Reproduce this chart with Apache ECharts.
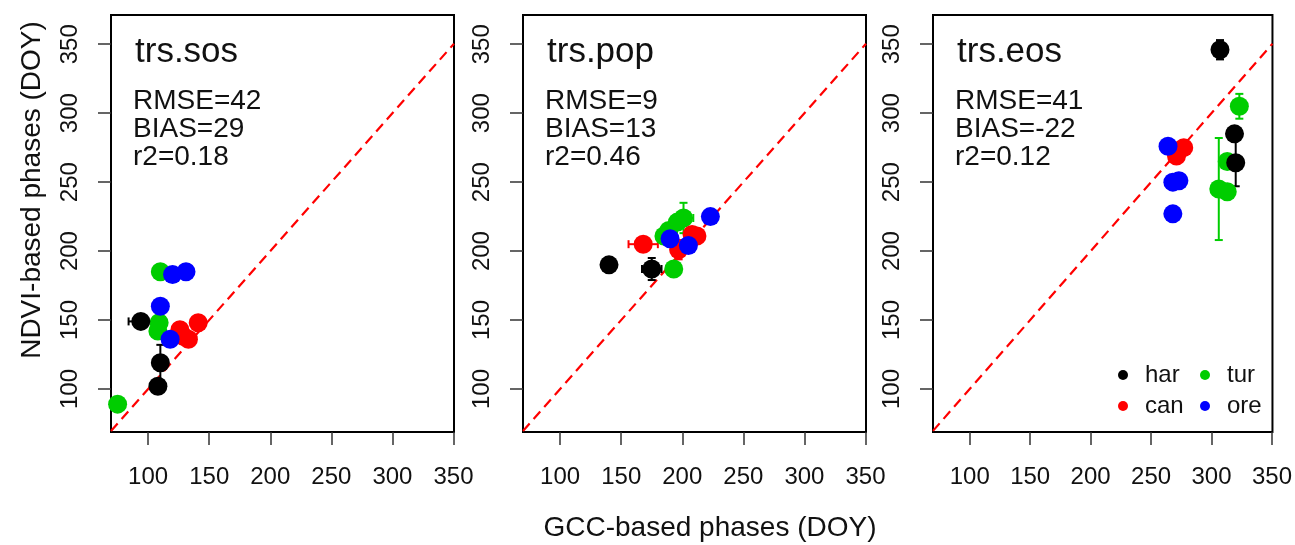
<!DOCTYPE html>
<html>
<head>
<meta charset="utf-8">
<script src="https://cdn.jsdelivr.net/npm/echarts@6/dist/echarts.min.js"></script>
<style>
html,body{margin:0;padding:0;background:#fff;}
#chart{width:1295px;height:545px;}
</style>
</head>
<body>
<div id="chart"></div>
<script>
// ---- data: [GCC DOY, NDVI DOY, x-error, y-error] ----
const panelNames = ['trs.sos', 'trs.pop', 'trs.eos'];
const panelStats = [
  ['RMSE=42', 'BIAS=29', 'r2=0.18'],
  ['RMSE=9', 'BIAS=13', 'r2=0.46'],
  ['RMSE=41', 'BIAS=-22', 'r2=0.12']
];
const tickValues = [100, 150, 200, 250, 300, 350];
const siteNames = ['har', 'can', 'tur', 'ore'];

const sosHar = [[94,149,10,0],[110,119,0,13],[108,102,0,0]];
const sosCan = [[126,143,0,0],[141,148,0,0],[133,136,0,0],[129,138,0,0]];
const sosTur = [[110,185,0,0],[109,148,0,0],[108,142,0,0],[75,89,0,0]];
const sosOre = [[120,183,0,0],[131,185,0,0],[110,160,0,0],[118,136,0,0]];

const popHar = [[140,190,5,0],[175,187,8,8]];
const popCan = [[168,205,12,0],[197,201,0,7],[208,212,0,0],[212,211,0,0]];
const popTur = [[193,187,0,0],[185,211,0,0],[189,215,0,0],[196,221,0,0],[201,224,8,11]];
const popOre = [[190,209,0,0],[205,204,0,0],[223,225,5,0]];

const eosHar = [[307,346,0,7],[319,285,0,0],[320,264,0,17]];
const eosCan = [[273,273,0,0],[271,269,0,0],[277,275,0,0]];
const eosTur = [[323,305,0,9],[313,265,0,0],[306,245,0,37],[313,243,0,0]];
const eosOre = [[264,276,0,0],[268,250,0,0],[273,251,0,0],[268,227,0,0]];

const xRange = [69.6, 350.4];
const yRange = [68.8, 371.2];
const oneToOne = [[69.6, 69.6], [350.4, 350.4]];

// ---- styling ----
const FONT = '"Liberation Sans", Arial, Helvetica, sans-serif';
const siteColors = {har: '#000000', can: '#ff0000', tur: '#00cd00', ore: '#0000ff'};
const panelData = [
  {har: sosHar, can: sosCan, tur: sosTur, ore: sosOre},
  {har: popHar, can: popCan, tur: popTur, ore: popOre},
  {har: eosHar, can: eosCan, tur: eosTur, ore: eosOre}
];
const gridLefts = [111, 523, 933];
const gridW = 343, gridTop = 15, gridH = 417;

function errRenderer(color) {
  return function (params, api) {
    const x = api.value(0), y = api.value(1), xe = api.value(2), ye = api.value(3);
    const st = {stroke: color, lineWidth: 2};
    const cap = 4;
    const ch = [];
    if (xe > 0) {
      const a = api.coord([x - xe, y]), b = api.coord([x + xe, y]);
      ch.push({type: 'line', shape: {x1: a[0], y1: a[1], x2: b[0], y2: b[1]}, style: st});
      ch.push({type: 'line', shape: {x1: a[0], y1: a[1] - cap, x2: a[0], y2: a[1] + cap}, style: st});
      ch.push({type: 'line', shape: {x1: b[0], y1: b[1] - cap, x2: b[0], y2: b[1] + cap}, style: st});
    }
    if (ye > 0) {
      const a = api.coord([x, y - ye]), b = api.coord([x, y + ye]);
      ch.push({type: 'line', shape: {x1: a[0], y1: a[1], x2: b[0], y2: b[1]}, style: st});
      ch.push({type: 'line', shape: {x1: a[0] - cap, y1: a[1], x2: a[0] + cap, y2: a[1]}, style: st});
      ch.push({type: 'line', shape: {x1: b[0] - cap, y1: b[1], x2: b[0] + cap, y2: b[1]}, style: st});
    }
    return {type: 'group', children: ch};
  };
}

const grids = [], xAxes = [], yAxes = [], series = [], graphics = [];
const drawOrder = ['tur', 'har', 'can', 'ore'];

for (let p = 0; p < 3; p++) {
  grids.push({left: gridLefts[p], top: gridTop, width: gridW, height: gridH,
    show: true, borderColor: '#000', borderWidth: 2, backgroundColor: 'transparent'});
  xAxes.push({type: 'value', gridIndex: p, min: xRange[0], max: xRange[1],
    axisLine: {show: false}, splitLine: {show: false},
    axisTick: {show: true, length: 13, customValues: tickValues, lineStyle: {color: '#333', width: 1.5}},
    axisLabel: {customValues: tickValues, margin: 33, fontSize: 24, color: '#111', fontFamily: FONT}});
  yAxes.push({type: 'value', gridIndex: p, min: yRange[0], max: yRange[1],
    axisLine: {show: false}, splitLine: {show: false},
    axisTick: {show: true, length: 13, customValues: tickValues, lineStyle: {color: '#333', width: 1.5}},
    axisLabel: {customValues: tickValues, margin: 29, rotate: 90, fontSize: 24, color: '#111', fontFamily: FONT}});

  series.push({type: 'line', xAxisIndex: p, yAxisIndex: p, data: oneToOne, symbol: 'none',
    silent: true, z: 1, lineStyle: {color: '#ff0000', width: 2.2, type: [10, 6]}});

  drawOrder.forEach(function (s) {
    const d = panelData[p][s];
    series.push({type: 'custom', name: s + '-err', xAxisIndex: p, yAxisIndex: p, z: 2,
      data: d, encode: {x: 0, y: 1}, renderItem: errRenderer(siteColors[s]), silent: true});
  });
  drawOrder.forEach(function (s) {
    const d = panelData[p][s];
    series.push({type: 'scatter', name: s, xAxisIndex: p, yAxisIndex: p, z: 3,
      data: d.map(function (r) { return [r[0], r[1]]; }),
      symbol: 'circle', symbolSize: 19, itemStyle: {color: siteColors[s], opacity: 1}});
  });

  graphics.push({type: 'text', left: gridLefts[p] + 24, top: 35,
    style: {text: panelNames[p], fontSize: 35, fill: '#111', fontFamily: FONT}});
  graphics.push({type: 'text', left: gridLefts[p] + 22, top: 87,
    style: {text: panelStats[p].join('\n'), fontSize: 28, lineHeight: 28, fill: '#111', fontFamily: FONT}});
}

graphics.push({type: 'text', x: 32, y: 190, rotation: Math.PI / 2,
  style: {text: 'NDVI-based phases (DOY)', fontSize: 28, fill: '#111', fontFamily: FONT,
    align: 'center', verticalAlign: 'middle'}});
graphics.push({type: 'text', x: 710, y: 528,
  style: {text: 'GCC-based phases (DOY)', fontSize: 28, fill: '#111', fontFamily: FONT,
    align: 'center', verticalAlign: 'middle'}});

const legendCommon = {orient: 'vertical', icon: 'circle', itemWidth: 10, itemHeight: 10, itemGap: 7,
  selectedMode: false, padding: 0,
  textStyle: {fontSize: 24, color: '#111', fontFamily: FONT, padding: [0, 0, 0, 12]}};

const option = {
  animation: false,
  backgroundColor: '#fff',
  grid: grids,
  xAxis: xAxes,
  yAxis: yAxes,
  legend: [
    Object.assign({}, legendCommon, {data: ['har', 'can'], left: 1118, top: 363}),
    Object.assign({}, legendCommon, {data: ['tur', 'ore'], left: 1200, top: 363})
  ],
  series: series,
  graphic: graphics
};

const chart = echarts.init(document.getElementById('chart'), null, {renderer: 'canvas'});
chart.setOption(option);
</script>
</body>
</html>
